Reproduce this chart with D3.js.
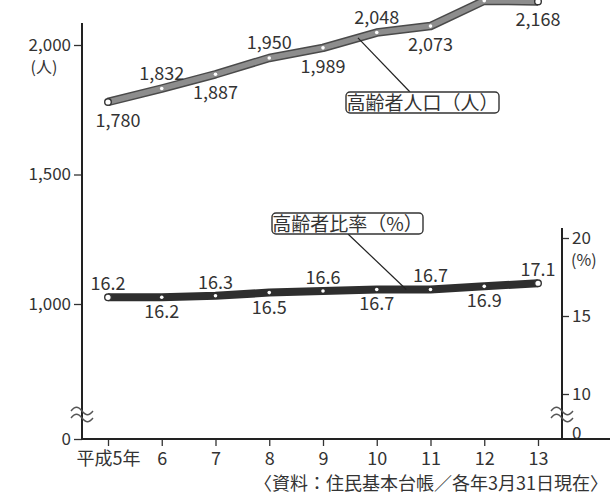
<!DOCTYPE html>
<html>
<head>
<meta charset="utf-8">
<script src="https://cdn.jsdelivr.net/npm/d3@7"></script>
<style>
  body { margin: 0; background: #fff; }
  svg text { font-family: "Noto Sans CJK JP", "Noto Sans", sans-serif; fill: #333; }
</style>
</head>
<body>
<script>
// data
var years = ["平成5年", "6", "7", "8", "9", "10", "11", "12", "13"];
var population = [1780, 1832, 1887, 1950, 1989, 2048, 2073, 2171, 2168];
var ratio = [16.2, 16.2, 16.3, 16.5, 16.6, 16.7, 16.7, 16.9, 17.1];
var leftTicks = [0, 1000, 1500, 2000];
var rightTicks = [0, 10, 15, 20];

var width = 610, height = 495;
var axisY = 439, leftX = 82, rightX = 562;

var svg = d3.select("body").append("svg")
    .attr("width", width)
    .attr("height", height);

// scales (axes are broken below 1,000 / 10)
var x = d3.scalePoint().domain(years).range([108, 538]);
var yL = d3.scaleLinear().domain([0, 1000, 2000]).range([axisY, 304, 45]);
var yR = d3.scaleLinear().domain([0, 10, 20]).range([433, 394, 238]);

var pop = years.map((y, i) => ({year: y, v: population[i]}));
var rat = years.map((y, i) => ({year: y, v: ratio[i]}));

// ---- axes ----
var ax = svg.append("g").attr("transform", "translate(0," + axisY + ")")
    .call(d3.axisBottom(x).tickSize(7).tickSizeOuter(0).tickPadding(6));
ax.select(".domain").remove();
ax.selectAll("line").attr("stroke", "#333").attr("stroke-width", 1.3);
ax.selectAll("text").style("font-size", "18px").attr("dy", "0.72em");

var al = svg.append("g").attr("transform", "translate(" + leftX + ",0)")
    .call(d3.axisLeft(yL).tickValues(leftTicks).tickSize(8).tickPadding(3).tickFormat(d3.format(",")));
al.select(".domain").remove();
al.selectAll("line").attr("stroke", "#333").attr("stroke-width", 1.3);
al.selectAll("text").style("font-size", "17px");

var ar = svg.append("g").attr("transform", "translate(" + rightX + ",0)")
    .call(d3.axisRight(yR).tickValues(rightTicks).tickSize(7).tickPadding(3));
ar.select(".domain").remove();
ar.selectAll("line").attr("stroke", "#333").attr("stroke-width", 1.3)
  .filter(d => d === 0).remove();
ar.selectAll("text").style("font-size", "17px");

svg.append("line").attr("x1", leftX).attr("x2", leftX).attr("y1", 23).attr("y2", axisY + 1)
   .attr("stroke", "#222").attr("stroke-width", 2);
svg.append("line").attr("x1", rightX).attr("x2", rightX).attr("y1", 228).attr("y2", axisY + 1)
   .attr("stroke", "#222").attr("stroke-width", 2);
svg.append("line").attr("x1", leftX).attr("x2", width).attr("y1", axisY).attr("y2", axisY)
   .attr("stroke", "#222").attr("stroke-width", 2);

// unit labels
svg.append("text").attr("x", 44).attr("y", 73).attr("text-anchor", "middle")
   .style("font-size", "16px").text("(人)");
svg.append("text").attr("x", 571).attr("y", 266)
   .style("font-size", "16px").text("(%)");

// axis break marks
function breakMark(cx, cy) {
  [cy - 3, cy + 4].forEach(yy => {
    svg.append("path")
       .attr("d", "M" + (cx - 11) + "," + yy + " c4,-5 7,-5 11,0 s7,5 11,0")
       .attr("fill", "none").attr("stroke", "#555").attr("stroke-width", 1.4);
  });
}
breakMark(leftX, 414);
breakMark(rightX, 414);

// ---- lines ----
var linePop = d3.line().x(d => x(d.year)).y(d => yL(d.v));
var lineRat = d3.line().x(d => x(d.year)).y(d => yR(d.v));

svg.append("path").attr("d", linePop(pop)).attr("fill", "none")
   .attr("stroke", "#4a4a4a").attr("stroke-width", 8.5).attr("stroke-linejoin", "round");
svg.append("path").attr("d", linePop(pop)).attr("fill", "none")
   .attr("stroke", "#8d8d8d").attr("stroke-width", 5.5).attr("stroke-linejoin", "round");

svg.append("path").attr("d", lineRat(rat)).attr("fill", "none")
   .attr("stroke", "#2e2e2e").attr("stroke-width", 8).attr("stroke-linejoin", "round");

function dots(data, yScale) {
  var n = data.length;
  svg.append("g").selectAll("circle").data(data).join("circle")
     .attr("cx", d => x(d.year)).attr("cy", d => yScale(d.v))
     .attr("r", (d, i) => (i === 0 || i === n - 1) ? 3.3 : 1.8)
     .attr("fill", "#fff")
     .attr("stroke", (d, i) => (i === 0 || i === n - 1) ? "#333" : "none")
     .attr("stroke-width", 1.4);
}
dots(pop, yL);
dots(rat, yR);

// ---- value labels (alternate below / above) ----
svg.append("g").selectAll("text").data(pop).join("text")
   .attr("x", (d, i) => x(d.year) + (i === 0 ? 10 : 0))
   .attr("y", (d, i) => yL(d.v) + (i % 2 === 0 ? 25 : -9))
   .attr("text-anchor", "middle")
   .style("font-size", "18px")
   .text(d => d3.format(",")(d.v));

svg.append("g").selectAll("text").data(rat).join("text")
   .attr("x", d => x(d.year))
   .attr("y", (d, i) => yR(d.v) + (i % 2 === 0 ? -7 : 21))
   .attr("text-anchor", "middle")
   .style("font-size", "18px")
   .text(d => d3.format(".1f")(d.v));

// ---- callouts ----
function pointOn(data, yScale, i, t) {
  var x0 = x(data[i].year), x1 = x(data[i + 1].year);
  var y0 = yScale(data[i].v), y1 = yScale(data[i + 1].v);
  return [x0 + (x1 - x0) * t, y0 + (y1 - y0) * t];
}

function callout(label, bx, by, bw, anchor, target) {
  svg.append("line")
     .attr("x1", target[0]).attr("y1", target[1])
     .attr("x2", anchor[0]).attr("y2", anchor[1])
     .attr("stroke", "#222").attr("stroke-width", 1.2);
  svg.append("rect")
     .attr("x", bx).attr("y", by).attr("width", bw).attr("height", 21)
     .attr("rx", 4).attr("fill", "#fff").attr("stroke", "#333").attr("stroke-width", 1.4);
  svg.append("text")
     .attr("x", bx + bw / 2).attr("y", by + 18)
     .attr("text-anchor", "middle")
     .style("font-size", "19px")
     .text(label);
}

callout("高齢者人口（人）", 346, 92, 153, [410, 92], pointOn(pop, yL, 4, 0.65));
callout("高齢者比率（%）", 272, 213, 151, [348, 234], pointOn(rat, yR, 5, 0.55));

// source note
svg.append("text").attr("x", 608).attr("y", 490).attr("text-anchor", "end")
   .style("font-size", "18px")
   .text("〈資料：住民基本台帳／各年3月31日現在〉");
</script>
</body>
</html>
